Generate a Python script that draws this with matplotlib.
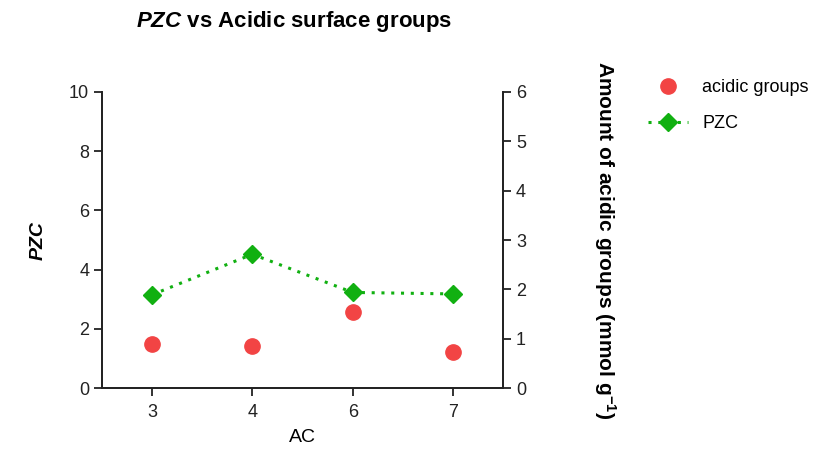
import matplotlib
matplotlib.use("Agg")
import matplotlib.pyplot as plt
from matplotlib.lines import Line2D

plt.rcParams["font.family"] = ["Liberation Sans", "DejaVu Sans"]
plt.rcParams["mathtext.fontset"] = "custom"
plt.rcParams["mathtext.it"] = "Liberation Sans:italic:bold"
plt.rcParams["mathtext.rm"] = "Liberation Sans:bold"

# samples and measured values
samples = ["3", "4", "6", "7"]
pzc = [3.15, 4.52, 3.23, 3.18]
acidic = [0.90, 0.85, 1.55, 0.74]

RED = "#f24444"
GREEN = "#11b011"

fig = plt.figure(figsize=(8.37, 4.55), dpi=100)
ax = fig.add_axes([0.1215, 0.147, 0.480, 0.651])
ax2 = ax.twinx()

x = range(len(samples))
ax.plot(x, pzc, ls=(0, (1, 2.2)), lw=2.2, color=GREEN, marker="D",
        ms=9, mec=GREEN, mfc=GREEN, zorder=3)
ax2.plot(x, acidic, ls="none", marker="o", ms=11, color=RED, zorder=3)

ax.set_xlim(-0.5, len(samples) - 0.5)
ax.set_ylim(0, 10)
ax.set_yticks([0, 2, 4, 6, 8, 10])
ax2.set_ylim(0, 6)
ax2.set_yticks(range(7))
ax.set_xticks(list(x))
ax.set_xticklabels(samples)

for a in (ax, ax2):
    a.spines["top"].set_visible(False)
    for s in a.spines.values():
        s.set_linewidth(1.3)
        s.set_color("#222222")
    a.tick_params(width=1.3, length=5.5, labelsize=13, colors="#222222")
ax.tick_params(axis="x", pad=6)

ax.set_xlabel("AC", fontsize=14, labelpad=6)
ax.set_ylabel("PZC", fontsize=14, style="italic", fontweight="bold",
              labelpad=16)
ax2.set_ylabel("Amount of acidic groups (mmol g$^{-1}$)", fontsize=15,
               fontweight="bold", rotation=270, labelpad=66)

fig.text(0.163, 0.952, r"$\it{PZC}$ vs Acidic surface groups",
         fontsize=16, fontweight="bold", ha="left", va="center")

handles = [
    Line2D([], [], ls="none", marker="o", ms=11, color=RED),
    Line2D([], [], ls=(0, (1, 2.2)), lw=2.2, color=GREEN, marker="D", ms=9),
]
fig.legend(handles, ["acidic groups", "PZC"], loc="upper left",
           bbox_to_anchor=(0.755, 0.862), frameon=False, fontsize=13,
           handlelength=2.2, labelspacing=1.05)

fig.savefig("out.png", dpi=100)
